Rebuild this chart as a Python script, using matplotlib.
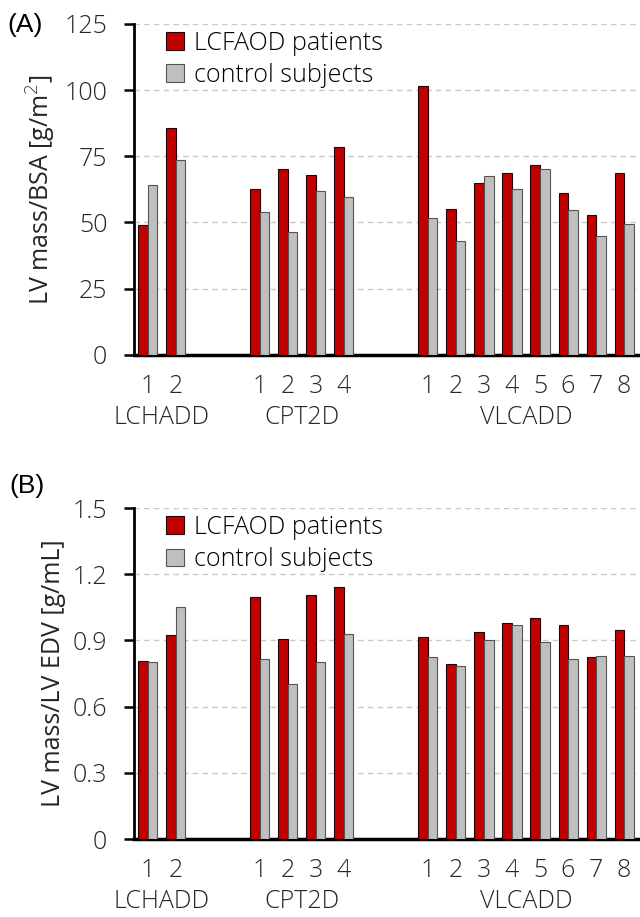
import numpy as np
import matplotlib
matplotlib.use("Agg")
import matplotlib.pyplot as plt
from matplotlib.transforms import blended_transform_factory

# categories: diagnosis groups and subject numbers
groups = ["LCHADD", "CPT2D", "VLCADD"]
group_sizes = [2, 4, 8]
subjects = ["1", "2", "1", "2", "3", "4", "1", "2", "3", "4", "5", "6", "7", "8"]

# (A) LV mass / BSA [g/m2]
mass_bsa_patients = [49.0, 85.5, 62.6, 70.3, 68.0, 78.6,
                     101.6, 55.2, 65.0, 68.7, 71.8, 61.0, 52.9, 68.5]
mass_bsa_controls = [64.1, 73.6, 54.1, 46.3, 61.7, 59.6,
                     51.7, 43.0, 67.4, 62.6, 70.2, 54.7, 45.0, 49.4]

# (B) LV mass / LV EDV [g/mL]
mass_edv_patients = [0.806, 0.925, 1.098, 0.906, 1.105, 1.140,
                     0.915, 0.792, 0.939, 0.977, 1.000, 0.971, 0.827, 0.947]
mass_edv_controls = [0.801, 1.051, 0.814, 0.703, 0.801, 0.930,
                     0.826, 0.786, 0.900, 0.972, 0.895, 0.815, 0.830, 0.830]

RED = "#C00000"
GREY = "#BFBFBF"
TXT = "#262626"
FS = 18
GAP = 2  # empty category slots between groups

plt.rcParams["font.family"] = ["Open Sans", "DejaVu Sans"]
plt.rcParams["font.weight"] = "light"


def slot_positions():
    pos = []
    start = 0
    for n in group_sizes:
        pos.extend(range(start, start + n))
        start += n + GAP
    return np.array(pos, dtype=float), start - GAP


def draw_panel(ax, patients, controls, ylim, yticks, ytick_labels, ylabel):
    x, n_slots = slot_positions()
    w = 0.34
    ax.bar(x - w / 2, patients, width=w, color=RED, edgecolor="#2a0000",
           linewidth=0.8, label="LCFAOD patients", zorder=3)
    ax.bar(x + w / 2, controls, width=w, color=GREY, edgecolor="#555555",
           linewidth=0.8, label="control subjects", zorder=3)

    ax.set_xlim(-0.5, n_slots - 0.5)
    ax.set_ylim(*ylim)
    ax.set_yticks(yticks)
    ax.set_yticklabels(ytick_labels, fontsize=FS, color=TXT)
    ax.tick_params(axis="y", direction="out", length=7, width=1.8, pad=12)
    ax.yaxis.grid(True, linestyle=(0, (4, 3)), color="#C8C8C8", linewidth=1, zorder=0)
    ax.set_axisbelow(True)

    ax.set_xticks(x)
    ax.set_xticklabels(subjects, fontsize=FS, color=TXT)
    ax.tick_params(axis="x", length=0, pad=14)

    for side in ["top", "right"]:
        ax.spines[side].set_visible(False)
    ax.spines["left"].set_linewidth(2)
    ax.spines["bottom"].set_linewidth(2.5)

    trans = blended_transform_factory(ax.transData, ax.transAxes)
    start = 0
    for name, n in zip(groups, group_sizes):
        ax.text(start + (n - 1) / 2, -0.19, name, transform=trans, ha="center",
                va="center", fontsize=FS, color=TXT)
        start += n + GAP

    ax.set_ylabel(ylabel, fontsize=FS, color=TXT, labelpad=5)
    ax.legend(loc="upper left", bbox_to_anchor=(0.045, 1.01), frameon=False,
              fontsize=FS, handlelength=0.72, handleheight=0.72,
              handletextpad=0.4, labelspacing=0.3, borderaxespad=0)


fig = plt.figure(figsize=(6.4, 9.17), dpi=100)
ax_a = fig.add_axes([0.209, 0.613, 0.788, 0.361])
ax_b = fig.add_axes([0.209, 0.085, 0.788, 0.361])

draw_panel(ax_a, mass_bsa_patients, mass_bsa_controls, (0, 125),
           [0, 25, 50, 75, 100, 125], ["0", "25", "50", "75", "100", "125"],
           "LV mass/BSA [g/m$^2$]")
draw_panel(ax_b, mass_edv_patients, mass_edv_controls, (0, 1.5),
           [0, 0.3, 0.6, 0.9, 1.2, 1.5], ["0", "0.3", "0.6", "0.9", "1.2", "1.5"],
           "LV mass/LV EDV [g/mL]")

fig.text(0.011, 1 - 25 / 917, "(A)", fontsize=19, family="Liberation Sans",
         fontweight="normal", va="center", ha="left")
fig.text(0.014, 1 - 486 / 917, "(B)", fontsize=19, family="Liberation Sans",
         fontweight="normal", va="center", ha="left")

fig.savefig("out.png", dpi=100)
